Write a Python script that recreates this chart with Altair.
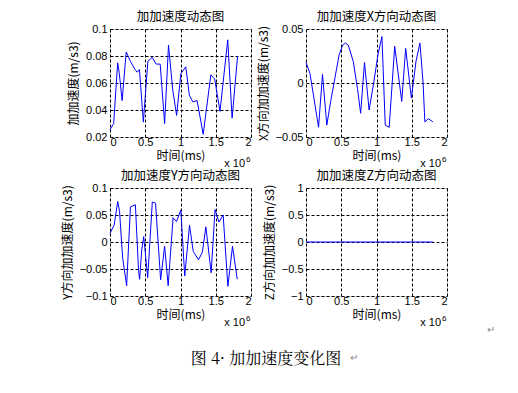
import altair as alt
import pandas as pd

# ---- data (time in units of 10^6 ms) ----
t1 = [0.000, 0.052, 0.109, 0.132, 0.172, 0.230, 0.290, 0.355, 0.385, 0.418, 0.473, 0.537,
      0.598, 0.655, 0.712, 0.775, 0.830, 0.890, 0.945, 1.005, 1.075, 1.125, 1.175, 1.235,
      1.322, 1.430, 1.485, 1.560, 1.670, 1.732, 1.810]
v1 = [0.0255, 0.030, 0.075, 0.067, 0.047, 0.083, 0.076, 0.070, 0.068, 0.070, 0.031, 0.076,
      0.079, 0.074, 0.074, 0.030, 0.088, 0.055, 0.036, 0.067, 0.072, 0.051, 0.046, 0.047,
      0.022, 0.066, 0.063, 0.039, 0.092, 0.034, 0.080]

t2 = [0.000, 0.056, 0.178, 0.234, 0.295, 0.350, 0.400, 0.470, 0.520, 0.560, 0.600, 0.670,
      0.730, 0.775, 0.830, 0.895, 0.960, 1.020, 1.077, 1.124, 1.180, 1.258, 1.358, 1.414,
      1.495, 1.560, 1.616, 1.660, 1.686, 1.735, 1.800]
v2 = [0.019, 0.009, -0.041, 0.008, -0.039, -0.017, 0.001, 0.026, 0.035, 0.037, 0.035, 0.020,
      -0.005, -0.028, 0.019, -0.025, 0.000, 0.026, 0.043, -0.039, -0.041, 0.034, -0.017, 0.032,
      -0.014, 0.020, 0.037, 0.001, -0.036, -0.033, -0.036]

t3 = [0.000, 0.058, 0.110, 0.135, 0.180, 0.236, 0.290, 0.360, 0.405, 0.420, 0.450, 0.478,
      0.535, 0.600, 0.646, 0.718, 0.775, 0.825, 0.895, 0.943, 1.005, 1.060, 1.128, 1.180,
      1.255, 1.310, 1.360, 1.435, 1.490, 1.545, 1.605, 1.672, 1.738, 1.805]
v3 = [0.016, 0.031, 0.075, 0.057, -0.030, -0.081, 0.065, 0.069, -0.053, -0.069, -0.015, 0.010,
      -0.066, 0.074, 0.072, -0.070, -0.008, -0.081, 0.045, 0.038, 0.059, -0.063, 0.031, -0.017,
      -0.033, -0.019, 0.028, -0.057, 0.060, 0.037, 0.050, -0.082, -0.008, -0.069]

t4 = [0.000, 1.800]
v4 = [0.0, 0.0]

x_ticks = [0, 0.5, 1, 1.5, 2]
y1_ticks = [0.02, 0.04, 0.06, 0.08, 0.1]
y2_ticks = [-0.05, 0, 0.05]
y3_ticks = [-0.1, -0.05, 0, 0.05, 0.1]
y4_ticks = [-1, -0.5, 0, 0.5, 1]

titles = ["加加速度动态图", "加加速度X方向动态图", "加加速度Y方向动态图", "加加速度Z方向动态图"]
ytitles = ["加加速度(m/s3)", "X方向加加速度(m/s3)", "Y方向加加速度(m/s3)", "Z方向加加速度(m/s3)"]
xtitle = "时间(ms)"
caption = "图 4· 加加速度变化图"

CJK = "Noto Sans CJK SC"
LAT = "Liberation Sans"
W, H = 141, 108
one = pd.DataFrame({"a": [0]})

common_axis = dict(format="~g", grid=True, gridColor="black", gridDash=[3, 2],
                   gridOpacity=1, gridWidth=1, ticks=False, domain=False,
                   labelFont=LAT, labelFontSize=11, labelColor="black",
                   titleFont=CJK, titleFontSize=12, titleFontWeight="normal",
                   titleColor="black")


def panel(t, v, title, ytitle, ydom, yticks, extras=()):
    df = pd.DataFrame({"t": t, "v": v})
    line = alt.Chart(df).mark_line(color="#0000ff", strokeWidth=1).encode(
        x=alt.X("t:Q", scale=alt.Scale(domain=[0, 2], nice=False),
                axis=alt.Axis(values=x_ticks, title=xtitle, labelPadding=-1,
                              titlePadding=3, **common_axis)),
        y=alt.Y("v:Q", scale=alt.Scale(domain=ydom, nice=False, zero=False),
                axis=alt.Axis(values=yticks, title=ytitle, labelPadding=3,
                              titlePadding=5, **common_axis)),
    )
    e1 = alt.Chart(one).mark_text(text="x 10", align="right", baseline="alphabetic",
                                  font=LAT, fontSize=11, color="black").encode(
        x=alt.value(W - 6), y=alt.value(H + 30))
    e2 = alt.Chart(one).mark_text(text="6", align="left", baseline="alphabetic",
                                  font=LAT, fontSize=8, color="black").encode(
        x=alt.value(W - 5), y=alt.value(H + 25))
    layers = [line, e1, e2] + list(extras)
    return alt.layer(*layers).properties(
        width=W, height=H,
        title=alt.TitleParams(title, font=CJK, fontSize=12.5, fontWeight="normal",
                              color="black", offset=0))


cap = alt.Chart(one).mark_text(text=caption, align="center", baseline="middle",
                               font="Noto Serif CJK SC, " + CJK, fontSize=16, color="black").encode(
    x=alt.value(156), y=alt.value(H + 63))
ret1 = alt.Chart(one).mark_text(text="↵", align="left", baseline="middle",
                                fontSize=10, color="#888888").encode(
    x=alt.value(W + 40), y=alt.value(H + 34))
ret2 = alt.Chart(one).mark_text(text="↵", align="left", baseline="middle",
                                fontSize=10, color="#888888").encode(
    x=alt.value(44), y=alt.value(H + 62))

p1 = panel(t1, v1, titles[0], ytitles[0], [0.02, 0.1], y1_ticks)
p2 = panel(t2, v2, titles[1], ytitles[1], [-0.05, 0.05], y2_ticks)
p3 = panel(t3, v3, titles[2], ytitles[2], [-0.1, 0.1], y3_ticks, [cap])
p4 = panel(t4, v4, titles[3], ytitles[3], [-1, 1], y4_ticks, [ret1, ret2])

chart = alt.concat(p1, p2, p3, p4, columns=2, spacing={"row": 51, "column": 55},
                   bounds="flush").properties(
    padding={"left": 52, "top": 2, "right": 5, "bottom": 5}
).configure_view(stroke="black", strokeWidth=1).configure(background="white")

chart.save("out.html", embed_options={"renderer": "svg", "actions": False})
